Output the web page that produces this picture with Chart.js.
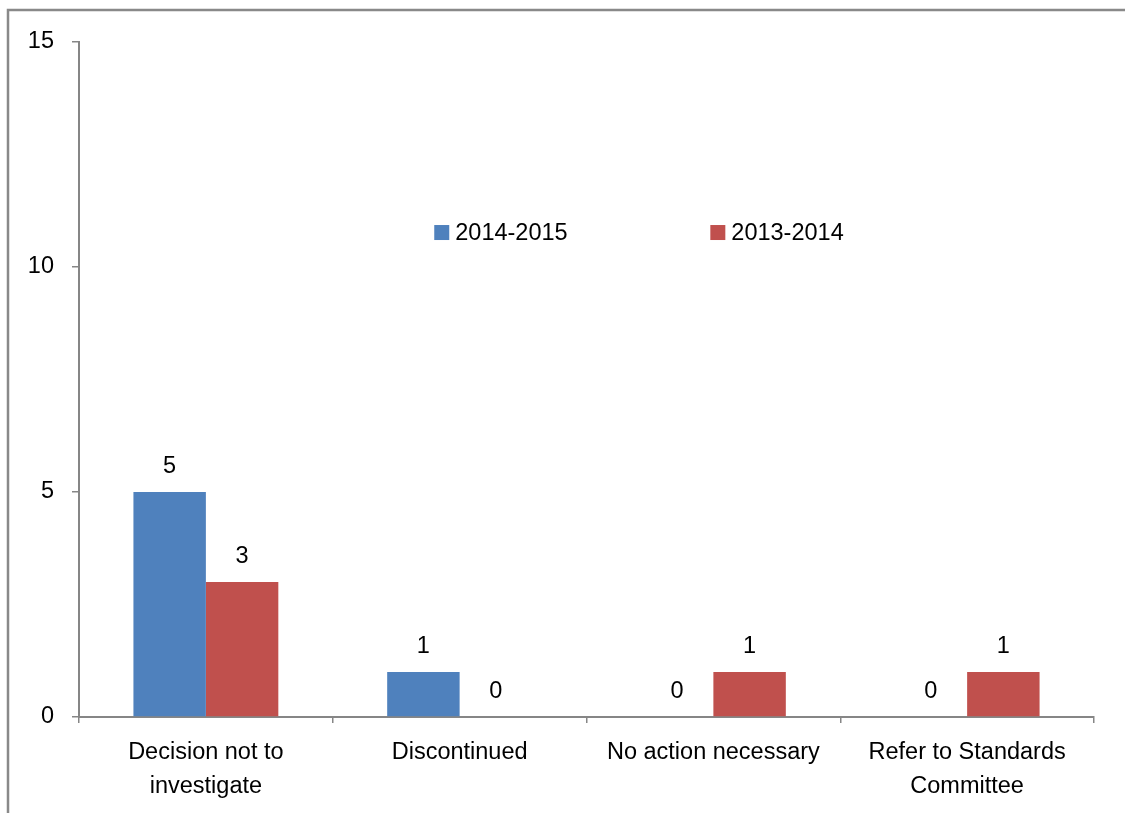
<!DOCTYPE html>
<html>
<head>
<meta charset="utf-8">
<script src="https://cdn.jsdelivr.net/npm/chart.js@4.4.0/dist/chart.umd.min.js"></script>
<style>
  html, body { margin: 0; padding: 0; background: #fff; }
  #wrap { width: 1125px; height: 813px; }
</style>
</head>
<body>
<div id="wrap"><canvas id="c"></canvas></div>
<script>
const categories = [['Decision not to', 'investigate'], 'Discontinued', 'No action necessary', ['Refer to Standards', 'Committee']];
const seriesNames = ['2014-2015', '2013-2014'];
const values2014_15 = [5, 1, 0, 0];
const values2013_14 = [3, 0, 1, 1];
const colors = ['#4f81bd', '#c0504d'];
const yTicks = [0, 5, 10, 15];

const FONT = '"Liberation Sans", Arial, sans-serif';
const FS = 23.5;
const axisGray = '#868686';

// frame around the chart (only top + left edges visible in the picture)
const framePlugin = {
    id: 'frame',
    afterDraw(chart) {
        const ctx = chart.ctx;
        ctx.save();
        ctx.strokeStyle = '#898989';
        ctx.lineWidth = 2.5;
        ctx.beginPath();
        ctx.moveTo(8, chart.height + 5);
        ctx.lineTo(8, 10);
        ctx.lineTo(chart.width + 5, 10);
        ctx.stroke();
        ctx.restore();
    }
};

// value labels above each bar
const valueLabels = {
    id: 'valueLabels',
    afterDatasetsDraw(chart) {
        const ctx = chart.ctx;
        ctx.save();
        ctx.font = FS + 'px ' + FONT;
        ctx.fillStyle = '#000';
        ctx.textAlign = 'center';
        ctx.textBaseline = 'middle';
        chart.data.datasets.forEach((ds, i) => {
            chart.getDatasetMeta(i).data.forEach((bar, j) => {
                ctx.fillText(String(ds.data[j]), bar.x, bar.y - 25);
            });
        });
        ctx.restore();
    }
};

// legend sits inside the plot area, in one row
const innerLegend = {
    id: 'innerLegend',
    afterDraw(chart) {
        const ctx = chart.ctx, a = chart.chartArea;
        const w = a.right - a.left;
        const y = a.top + (a.bottom - a.top) * 0.283;
        const xs = [a.left + w * 0.35, a.left + w * 0.622];
        ctx.save();
        ctx.font = FS + 'px ' + FONT;
        ctx.textBaseline = 'middle';
        ctx.textAlign = 'left';
        seriesNames.forEach((name, i) => {
            ctx.fillStyle = colors[i];
            ctx.fillRect(xs[i], y - 8, 15, 15);
            ctx.fillStyle = '#000';
            ctx.fillText(name, xs[i] + 21, y);
        });
        ctx.restore();
    }
};

new Chart(document.getElementById('c'), {
    type: 'bar',
    data: {
        labels: categories,
        datasets: [
            { label: seriesNames[0], data: values2014_15, backgroundColor: colors[0] },
            { label: seriesNames[1], data: values2013_14, backgroundColor: colors[1] }
        ]
    },
    options: {
        responsive: true,
        maintainAspectRatio: false,
        animation: false,
        events: [],
        layout: { padding: { left: 0, top: 42, right: 31, bottom: 0 } },
        datasets: { bar: { categoryPercentage: 0.571, barPercentage: 1.0 } },
        plugins: {
            legend: { display: false },
            tooltip: { enabled: false }
        },
        scales: {
            x: {
                grid: { offset: true, drawOnChartArea: false, tickLength: 6, color: axisGray, lineWidth: 1.5 },
                border: { color: axisGray, width: 2 },
                ticks: { color: '#000', font: { family: FONT, size: FS, lineHeight: 1.47 }, padding: 12, maxRotation: 0, autoSkip: false },
                afterFit(s) { s.height = 96; }
            },
            y: {
                min: 0, max: 15,
                afterBuildTicks(s) { s.ticks = yTicks.map(v => ({ value: v })); },
                grid: { drawOnChartArea: false, tickLength: 7, color: axisGray, lineWidth: 1.5 },
                border: { color: axisGray, width: 2 },
                ticks: { color: '#000', font: { family: FONT, size: FS }, padding: 18 },
                afterFit(s) { s.width = 79; }
            }
        }
    },
    plugins: [framePlugin, valueLabels, innerLegend]
});
</script>
</body>
</html>
